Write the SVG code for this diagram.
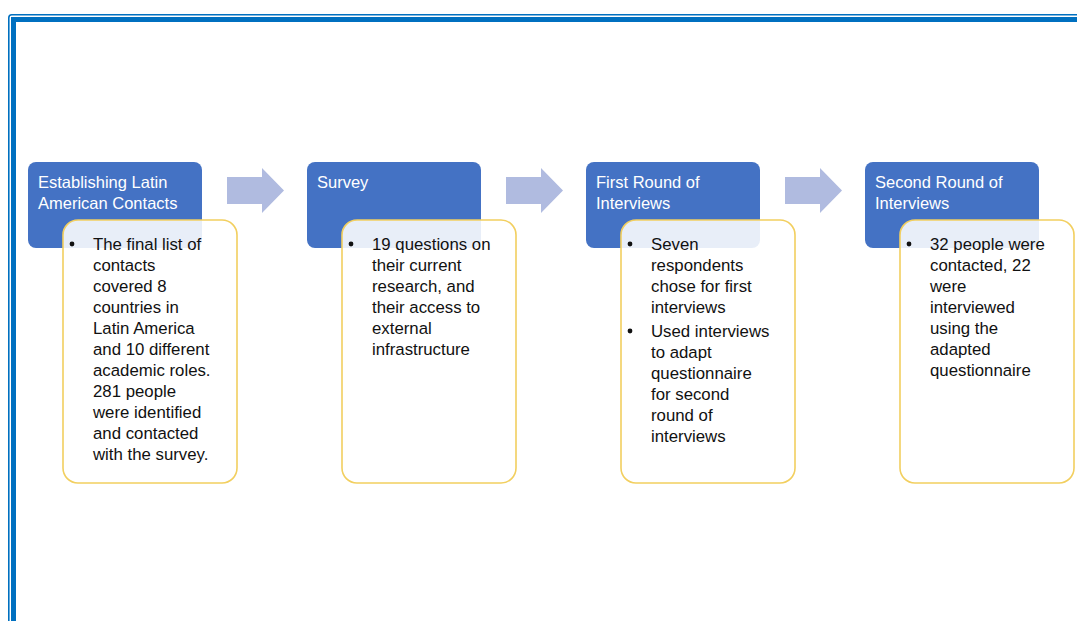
<svg xmlns="http://www.w3.org/2000/svg" width="1077" height="621" viewBox="0 0 1077 621">
<style>
.frame-thin{fill:none;stroke:#0070c0;stroke-width:1.6}
.frame-thick{fill:none;stroke:#0070c0;stroke-width:5}
.head{fill:#4472c4}
.card{fill:#ffffff;fill-opacity:0.88;stroke:#f2cf5f;stroke-width:1.6}
.arrow{fill:#b0bbe0}
.ht{font-family:"Liberation Sans",Arial,sans-serif;font-size:16.5px;fill:#ffffff}
.bt{font-family:"Liberation Sans",Arial,sans-serif;font-size:16.8px;fill:#111111}
</style>
<rect width="1077" height="621" fill="#ffffff"/>
<rect class="frame-thin" x="8.8" y="14.8" width="1120" height="660" rx="3"/>
<rect class="frame-thick" x="13.5" y="19.5" width="1110" height="650"/>
<g id="connectors">
<path class="arrow" d="M227,177 H262 V168 L284,190.5 L262,213 V204 H227 Z"/>
<path class="arrow" d="M506,177 H541 V168 L563,190.5 L541,213 V204 H506 Z"/>
<path class="arrow" d="M785,177 H820 V168 L842,190.5 L820,213 V204 H785 Z"/>
</g>
<g id="step1">
<rect class="head" x="28" y="162" width="174" height="86" rx="8"/>
<text class="ht" x="38" y="188">Establishing Latin</text>
<text class="ht" x="38" y="209">American Contacts</text>
<rect class="card" x="63" y="220" width="174" height="263" rx="15"/>
<circle cx="72" cy="244" r="2.4" fill="#111"/>
<text class="bt" x="93" y="250">The final list of</text>
<text class="bt" x="93" y="271">contacts</text>
<text class="bt" x="93" y="292">covered 8</text>
<text class="bt" x="93" y="313">countries in</text>
<text class="bt" x="93" y="334">Latin America</text>
<text class="bt" x="93" y="355">and 10 different</text>
<text class="bt" x="93" y="376">academic roles.</text>
<text class="bt" x="93" y="397">281 people</text>
<text class="bt" x="93" y="418">were identified</text>
<text class="bt" x="93" y="439">and contacted</text>
<text class="bt" x="93" y="460">with the survey.</text>
</g>
<g id="step2">
<rect class="head" x="307" y="162" width="174" height="86" rx="8"/>
<text class="ht" x="317" y="188">Survey</text>
<rect class="card" x="342" y="220" width="174" height="263" rx="15"/>
<circle cx="351" cy="244" r="2.4" fill="#111"/>
<text class="bt" x="372" y="250">19 questions on</text>
<text class="bt" x="372" y="271">their current</text>
<text class="bt" x="372" y="292">research, and</text>
<text class="bt" x="372" y="313">their access to</text>
<text class="bt" x="372" y="334">external</text>
<text class="bt" x="372" y="355">infrastructure</text>
</g>
<g id="step3">
<rect class="head" x="586" y="162" width="174" height="86" rx="8"/>
<text class="ht" x="596" y="188">First Round of</text>
<text class="ht" x="596" y="209">Interviews</text>
<rect class="card" x="621" y="220" width="174" height="263" rx="15"/>
<circle cx="630" cy="244" r="2.4" fill="#111"/>
<text class="bt" x="651" y="250">Seven</text>
<text class="bt" x="651" y="271">respondents</text>
<text class="bt" x="651" y="292">chose for first</text>
<text class="bt" x="651" y="313">interviews</text>
<circle cx="630" cy="331" r="2.4" fill="#111"/>
<text class="bt" x="651" y="337">Used interviews</text>
<text class="bt" x="651" y="358">to adapt</text>
<text class="bt" x="651" y="379">questionnaire</text>
<text class="bt" x="651" y="400">for second</text>
<text class="bt" x="651" y="421">round of</text>
<text class="bt" x="651" y="442">interviews</text>
</g>
<g id="step4">
<rect class="head" x="865" y="162" width="174" height="86" rx="8"/>
<text class="ht" x="875" y="188">Second Round of</text>
<text class="ht" x="875" y="209">Interviews</text>
<rect class="card" x="900" y="220" width="174" height="263" rx="15"/>
<circle cx="909" cy="244" r="2.4" fill="#111"/>
<text class="bt" x="930" y="250">32 people were</text>
<text class="bt" x="930" y="271">contacted, 22</text>
<text class="bt" x="930" y="292">were</text>
<text class="bt" x="930" y="313">interviewed</text>
<text class="bt" x="930" y="334">using the</text>
<text class="bt" x="930" y="355">adapted</text>
<text class="bt" x="930" y="376">questionnaire</text>
</g>
</svg>
